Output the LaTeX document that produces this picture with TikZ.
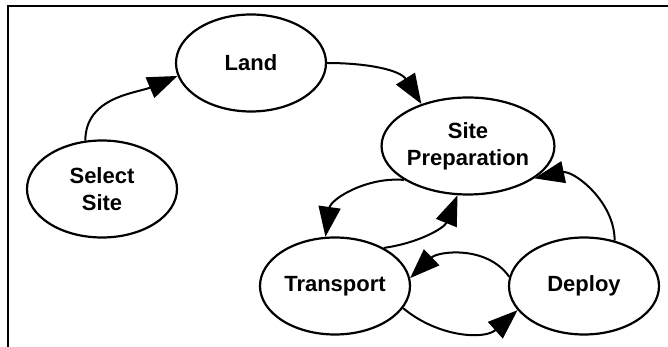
\documentclass[tikz,border=0pt]{standalone}
\usepackage{fontspec}
\setmainfont{Liberation Sans}
\usetikzlibrary{arrows.meta}
\usetikzlibrary{shapes.geometric}

\begin{document}
\begin{tikzpicture}[x=1pt, y=1pt,
 phase/.style={draw, line width=2.2pt, ellipse, minimum width=150pt, minimum height=97pt, inner sep=0pt, align=center, font=\fontsize{22}{27}\selectfont\bfseries},
 flow/.style={line width=2pt, -{Triangle[length=30pt,width=22pt]}}]
\useasboundingbox (0,0) rectangle (668,347);
\draw[line width=2.4pt] (8,0)--(8,341)--(668,341);
% the five phases
\node[phase] (select) at (102,158) {Select\\Site};
\node[phase] (land) at (251,284) {Land};
\node[phase] (prep) at (468,201) {Site\\Preparation};
\node[phase] (transport) at (335,61) {Transport};
\node[phase] (deploy) at (584,61) {Deploy};
% transitions
\draw[flow] (select.109) to[out=90, in=203] (land.190);
\draw[flow] (land.0) to[out=0, in=122] (prep.138);
\draw[flow] (prep.208) to[out=175, in=82] (transport.101);
\draw[flow] (transport.38) to[out=8, in=248] (prep.258);
\draw[flow] (deploy.173) to[out=125, in=44] (transport.6);
\draw[flow] (transport.342) to[out=-40, in=222] (deploy.200);
\draw[flow] (deploy.56) to[out=90, in=12] (prep.334);
\end{tikzpicture}
\end{document}
